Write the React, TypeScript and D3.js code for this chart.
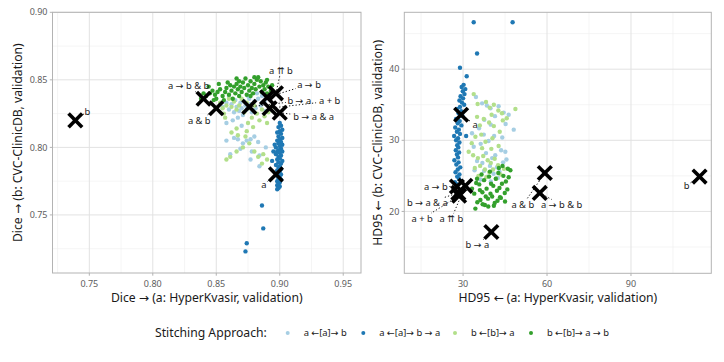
import React from 'react';
import * as d3 from 'd3';

const W = 724;
const H = 362;
const FONT = '"Noto Sans", "DejaVu Sans", sans-serif';

// legend / series
const seriesNames = ['a ←[a]→ b', 'a ←[a]→ b → a', 'b ←[b]→ a', 'b ←[b]→ a → b'];
const seriesColors = ['#a6cee3', '#1f78b4', '#b2df8a', '#33a02c'];

// Dice (x: HyperKvasir, y: CVC-ClinicDB) per series
const diceLightBlue = [
  [0.855,0.830],[0.858,0.833],[0.860,0.828],[0.862,0.832],[0.864,0.826],[0.865,0.835],[0.866,0.830],[0.868,0.827],
  [0.869,0.833],[0.870,0.829],[0.871,0.824],[0.872,0.834],[0.873,0.831],[0.874,0.828],[0.876,0.836],[0.877,0.832],
  [0.878,0.826],[0.880,0.834],[0.881,0.829],[0.883,0.836],[0.885,0.831],[0.886,0.838],[0.888,0.834],[0.889,0.827],
  [0.867,0.822],[0.863,0.820],[0.858,0.818],[0.870,0.816],[0.858,0.805],[0.864,0.807],[0.867,0.806],[0.871,0.803],
  [0.874,0.805],[0.877,0.806],[0.880,0.808],[0.883,0.804],[0.878,0.797],[0.884,0.794],[0.861,0.795],[0.877,0.791],
  [0.884,0.786],[0.889,0.800],[0.869,0.799],[0.886,0.833],[0.892,0.836],[0.875,0.838],[0.860,0.838],[0.882,0.840],
];
const diceDarkBlue = [
  [0.900,0.818],[0.901,0.816],[0.899,0.815],[0.902,0.813],[0.900,0.812],[0.898,0.811],[0.901,0.810],[0.899,0.808],
  [0.902,0.807],[0.900,0.806],[0.898,0.805],[0.901,0.804],[0.899,0.803],[0.902,0.802],[0.900,0.801],[0.897,0.800],
  [0.901,0.799],[0.899,0.798],[0.898,0.797],[0.902,0.797],[0.900,0.796],[0.897,0.795],[0.901,0.794],[0.899,0.793],
  [0.900,0.792],[0.898,0.791],[0.902,0.790],[0.899,0.789],[0.901,0.788],[0.897,0.787],[0.900,0.786],[0.899,0.785],
  [0.901,0.784],[0.898,0.783],[0.900,0.782],[0.899,0.781],[0.901,0.780],[0.898,0.779],[0.900,0.778],[0.899,0.777],
  [0.901,0.776],[0.898,0.775],[0.900,0.774],[0.899,0.773],[0.898,0.772],[0.900,0.771],[0.899,0.770],[0.898,0.769],
  [0.895,0.797],[0.896,0.802],[0.894,0.790],
  [0.886,0.757],[0.887,0.740],[0.874,0.729],[0.873,0.723],
];
const diceLightGreen = [
  [0.853,0.833],[0.855,0.829],[0.856,0.825],[0.858,0.831],[0.857,0.822],[0.860,0.836],[0.862,0.830],[0.864,0.834],
  [0.866,0.828],[0.868,0.831],[0.870,0.836],[0.872,0.826],[0.874,0.833],[0.876,0.829],[0.878,0.822],[0.880,0.831],
  [0.882,0.825],[0.884,0.820],[0.886,0.828],[0.888,0.823],[0.890,0.818],[0.891,0.826],[0.893,0.830],[0.875,0.818],
  [0.866,0.814],[0.862,0.811],[0.867,0.809],[0.873,0.808],[0.876,0.803],[0.871,0.800],[0.866,0.797],[0.861,0.793],
  [0.858,0.791],[0.880,0.797],[0.883,0.793],[0.887,0.795],[0.890,0.791],[0.886,0.788],[0.874,0.812],[0.879,0.815],
];
const diceDarkGreen = [
  [0.842,0.838],[0.845,0.840],[0.847,0.842],[0.849,0.839],[0.851,0.841],[0.853,0.843],[0.850,0.836],[0.855,0.838],
  [0.857,0.841],[0.858,0.844],[0.860,0.839],[0.861,0.846],[0.862,0.842],[0.864,0.845],[0.865,0.840],[0.866,0.847],
  [0.867,0.843],[0.868,0.838],[0.869,0.845],[0.870,0.841],[0.871,0.848],[0.872,0.844],[0.873,0.851],[0.874,0.839],
  [0.875,0.846],[0.876,0.842],[0.877,0.849],[0.878,0.844],[0.879,0.840],[0.880,0.847],[0.881,0.843],[0.882,0.850],
  [0.883,0.852],[0.884,0.845],[0.885,0.849],[0.886,0.841],[0.887,0.846],[0.888,0.843],[0.889,0.848],[0.890,0.840],
  [0.891,0.845],[0.893,0.842],[0.848,0.835],[0.856,0.835],[0.863,0.836],[0.868,0.849],[0.859,0.848],[0.877,0.838],
  [0.838,0.836],[0.840,0.840],[0.844,0.845],[0.852,0.847],[0.866,0.851],[0.880,0.852],[0.890,0.850],[0.894,0.846],
];

// HD95 (x: HyperKvasir, y: CVC-ClinicDB) per series
const hdLightBlue = [
  [34.6,36.1],[36.8,35.2],[38.5,34.9],[39.8,34.5],[42.7,34.8],[41.4,33.4],[44.5,33.9],[46.3,33.6],[48.1,31.5],
  [45.2,32.3],[37.6,32.9],[39.9,32.2],[35.7,31.7],[37.4,30.8],[33.8,29.1],[36.3,29.5],[39.1,29.9],[41.5,27.9],
  [43.6,28.6],[45.1,28.4],[38.2,28.2],[40.4,27.5],[35.0,27.1],[36.9,26.8],[39.6,26.4],[42.1,26.2],[44.3,26.9],
  [37.5,25.7],[40.9,25.3],[43.0,25.6],[34.1,25.8],[38.7,24.9],[42.4,24.7],[36.2,24.5],[39.9,24.2],[45.5,27.3],
  [41.1,30.6],[33.2,31.0],[44.0,30.4],
];
const hdDarkBlue = [
  [33.8,46.6],[47.7,46.6],[35.0,42.2],[28.9,40.2],[31.3,39.0],[31.1,30.6],
  [30.2,37.8],[29.5,37.5],[30.8,37.2],[29.9,36.9],[30.5,36.5],[29.1,36.2],[30.0,35.9],[28.7,35.6],[29.6,35.3],
  [30.4,35.0],[28.9,34.7],[27.8,34.4],[29.3,34.1],[28.4,33.8],[29.8,33.4],[27.5,33.0],[28.8,32.7],[28.1,32.4],
  [29.4,32.1],[27.2,31.8],[28.5,31.5],[27.8,31.2],[28.9,30.9],[26.8,30.6],[28.2,30.3],[27.5,30.0],[28.7,29.7],
  [27.9,29.3],[28.3,29.0],[27.4,28.6],[28.6,28.3],[27.8,28.0],[28.2,27.6],[26.9,27.2],[28.4,26.9],[27.6,26.6],
  [29.0,26.2],[28.1,25.9],[27.3,25.5],[28.7,25.2],[27.9,24.9],[28.5,24.6],[29.3,24.3],[27.1,24.1],[28.0,23.8],
];
const hdLightGreen = [
  [33.8,36.5],[35.2,35.1],[38.2,35.4],[39.5,34.6],[41.0,35.0],[43.9,33.8],[42.6,34.2],[48.7,34.4],[35.0,33.3],
  [37.4,33.0],[40.2,33.6],[41.0,32.0],[39.3,32.5],[36.0,32.1],[44.2,32.8],[45.6,33.1],[34.4,30.5],[36.5,30.8],
  [38.0,29.8],[42.7,29.2],[40.1,28.8],[32.0,28.4],[33.6,27.9],[35.3,27.5],[37.2,27.8],[38.8,27.2],[39.9,26.8],
  [41.3,27.4],[42.5,26.5],[36.1,26.4],[34.2,26.1],[37.8,25.9],[39.4,25.5],[40.7,25.9],[43.4,25.2],[35.5,25.0],
  [38.3,24.8],[41.8,24.6],[44.6,26.0],[36.8,28.9],[33.1,29.6],[40.5,30.3],[43.1,31.2],
];
const hdDarkGreen = [
  [33.2,23.2],[34.0,22.5],[34.4,20.4],[35.1,21.3],[35.8,23.8],[36.2,21.6],[36.9,22.7],[37.5,24.4],[37.8,20.9],
  [38.4,23.2],[38.9,21.8],[39.3,24.9],[39.8,22.5],[40.4,22.1],[40.8,23.6],[41.3,21.2],[41.7,24.6],[42.1,22.9],
  [42.6,25.4],[43.0,23.3],[43.5,21.9],[43.9,23.9],[44.4,25.0],[44.9,22.6],[45.3,24.2],[45.8,23.1],[46.3,24.8],
  [46.9,25.8],[42.8,26.1],[39.6,25.6],[36.6,25.2],[35.0,24.6],[38.1,22.1],[41.0,20.8],[43.2,22.0],[45.0,21.4],
  [37.0,21.0],[40.0,23.9],[44.1,26.4],[46.0,26.0],[34.7,24.0],[39.0,20.7],[42.3,21.5],[36.0,23.0],
];

// single-model / stitched approaches (black crosses)
const approaches = ['a', 'b', 'a & b', 'a → b', 'b → a', 'a → b & b', 'b → a & a', 'a + b', 'a ⇈ b'];
const approachDiceA = [0.897, 0.739, 0.850, 0.890, 0.876, 0.840, 0.900, 0.892, 0.897];
const approachDiceB = [0.780, 0.820, 0.829, 0.837, 0.830, 0.836, 0.8256, 0.829, 0.840];
const approachHdA = [29.3, 114.5, 59.2, 27.8, 40.1, 57.4, 28.3, 28.6, 30.8];
const approachHdB = [33.6, 24.9, 25.4, 23.5, 17.1, 22.6, 22.6, 22.2, 23.6];

// tick breaks
const diceBreaks = [0.75, 0.8, 0.85, 0.9, 0.95];
const diceYBreaks = [0.75, 0.8, 0.85, 0.9];
const diceMinorX = [0.725, 0.775, 0.825, 0.875, 0.925];
const diceMinorY = [0.725, 0.775, 0.825, 0.875];
const hdBreaks = [30, 60, 90];
const hdYBreaks = [20, 30, 40];
const hdMinorX = [15, 45, 75, 105];
const hdMinorY = [15, 25, 35, 45];

// repelled label offsets (px, label centre relative to cross)
const diceLabelOffsets = [[-12, 10], [12, -9], [-17, 13], [42, -13], [50, -6], [-15, -13], [34, 4], [60, -7], [5, -23]];
const hdLabelOffsets = [[14, 10], [-13, 9], [-22, 32], [-21, 0], [-14, 13], [22, 12], [-31, 10], [-37, 23], [-14, 33]];

type Pt = number[];

interface PanelProps {
  left: number; right: number; top: number; bottom: number;
  xDomain: [number, number]; yDomain: [number, number];
  xBreaks: number[]; yBreaks: number[]; xMinor: number[]; yMinor: number[];
  fmt: (v: number) => string;
  series: Pt[][];
  crossX: number[]; crossY: number[];
  offsets: number[][];
  xTitle: string; yTitle: string; yTitleX: number;
}

function labelWidth(s: string) {
  return s.length * 5;
}

function Panel(p: PanelProps) {
  const x = d3.scaleLinear().domain(p.xDomain).range([p.left, p.right]);
  const y = d3.scaleLinear().domain(p.yDomain).range([p.bottom, p.top]);
  const grey = '#5e5e5e';
  const cs = 6.8;
  return (
    <g>
      {p.xMinor.map(v => <line key={'mx' + v} x1={x(v)} x2={x(v)} y1={p.top} y2={p.bottom} stroke="#efefef" strokeWidth={0.6} />)}
      {p.yMinor.map(v => <line key={'my' + v} y1={y(v)} y2={y(v)} x1={p.left} x2={p.right} stroke="#efefef" strokeWidth={0.6} />)}
      {p.xBreaks.map(v => <line key={'gx' + v} x1={x(v)} x2={x(v)} y1={p.top} y2={p.bottom} stroke="#e2e2e2" strokeWidth={1} />)}
      {p.yBreaks.map(v => <line key={'gy' + v} y1={y(v)} y2={y(v)} x1={p.left} x2={p.right} stroke="#e2e2e2" strokeWidth={1} />)}
      {p.series.map((pts, si) => (
        <g key={'s' + si} fill={seriesColors[si]}>
          {pts.map((d, i) => <circle key={i} cx={x(d[0])} cy={y(d[1])} r={2.2} />)}
        </g>
      ))}
      {/* leader segments */}
      {p.crossX.map((cx0, i) => {
        const px = x(cx0), py = y(p.crossY[i]);
        const lx = px + p.offsets[i][0], ly = py + p.offsets[i][1];
        const hw = labelWidth(approaches[i]) / 2 + 1, hh = 5.5;
        const dx = px - lx, dy = py - ly;
        const t = Math.min(dx === 0 ? Infinity : hw / Math.abs(dx), dy === 0 ? Infinity : hh / Math.abs(dy));
        if (t >= 1) return null;
        const ex = lx + dx * t, ey = ly + dy * t;
        const len = Math.hypot(px - ex, py - ey);
        if (len < 5) return null;
        const sx = px + (ex - px) * (3 / len), sy = py + (ey - py) * (3 / len);
        return <line key={'seg' + i} x1={sx} y1={sy} x2={ex} y2={ey} stroke="#000" strokeWidth={0.9} strokeDasharray="1.3,2" />;
      })}
      {p.crossX.map((cx0, i) => {
        const px = x(cx0), py = y(p.crossY[i]);
        return (
          <g key={'c' + i} stroke="#000" strokeWidth={3.6} strokeLinecap="butt">
            <line x1={px - cs} y1={py - cs} x2={px + cs} y2={py + cs} />
            <line x1={px - cs} y1={py + cs} x2={px + cs} y2={py - cs} />
          </g>
        );
      })}
      {p.crossX.map((cx0, i) => (
        <text key={'l' + i} x={x(cx0) + p.offsets[i][0]} y={y(p.crossY[i]) + p.offsets[i][1]} dy="0.35em"
          textAnchor="middle" fontSize={9.4} fill="#1a1a1a">{approaches[i]}</text>
      ))}
      <rect x={p.left} y={p.top} width={p.right - p.left} height={p.bottom - p.top} fill="none" stroke="#b3b3b3" strokeWidth={1} />
      {p.xBreaks.map(v => (
        <g key={'tx' + v}>
          <line x1={x(v)} x2={x(v)} y1={p.bottom} y2={p.bottom + 2.7} stroke="#b3b3b3" />
          <text x={x(v)} y={p.bottom + 14} textAnchor="middle" fontSize={9} fill={grey}>{p.fmt(v)}</text>
        </g>
      ))}
      {p.yBreaks.map(v => (
        <g key={'ty' + v}>
          <line x1={p.left - 2.7} x2={p.left} y1={y(v)} y2={y(v)} stroke="#b3b3b3" />
          <text x={p.left - 5} y={y(v)} dy="0.35em" textAnchor="end" fontSize={9} fill={grey}>{p.fmt(v)}</text>
        </g>
      ))}
      <text x={(p.left + p.right) / 2} y={302} textAnchor="middle" fontSize={12.2} fill="#1a1a1a">{p.xTitle}</text>
      <text transform={`translate(${p.yTitleX},${(p.top + p.bottom) / 2}) rotate(-90)`} dy="0.35em" textAnchor="middle"
        fontSize={12.2} fill="#1a1a1a">{p.yTitle}</text>
    </g>
  );
}

const legendDotX = [287.7, 363.3, 455, 531];

export default function App() {
  return (
    <svg width={W} height={H} style={{ display: 'block', position: 'absolute', left: 0, top: 0, background: '#fff' }}
      fontFamily={FONT}>
      <rect width={W} height={H} fill="#fff" />
      <Panel left={52.5} right={361} top={12.3} bottom={273}
        xDomain={[0.721, 0.964]} yDomain={[0.707, 0.9]}
        xBreaks={diceBreaks} yBreaks={diceYBreaks} xMinor={diceMinorX} yMinor={diceMinorY}
        fmt={d3.format('.2f')}
        series={[diceLightBlue, diceDarkBlue, diceLightGreen, diceDarkGreen]}
        crossX={approachDiceA} crossY={approachDiceB} offsets={diceLabelOffsets}
        xTitle="Dice → (a: HyperKvasir, validation)" yTitle="Dice → (b: CVC-ClinicDB, validation)" yTitleX={17.5} />
      <Panel left={404.3} right={711.3} top={12.3} bottom={273.3}
        xDomain={[9.0, 118.7]} yDomain={[11.3, 48.0]}
        xBreaks={hdBreaks} yBreaks={hdYBreaks} xMinor={hdMinorX} yMinor={hdMinorY}
        fmt={d3.format('d')}
        series={[hdLightBlue, hdDarkBlue, hdLightGreen, hdDarkGreen]}
        crossX={approachHdA} crossY={approachHdB} offsets={hdLabelOffsets}
        xTitle="HD95 ← (a: HyperKvasir, validation)" yTitle="HD95 ← (b: CVC-ClinicDB, validation)" yTitleX={378} />
      <text x={155} y={333} dy="0.35em" fontSize={12.2} fill="#1a1a1a">Stitching Approach:</text>
      {seriesNames.map((name, i) => (
        <g key={name}>
          <circle cx={legendDotX[i]} cy={333} r={2} fill={seriesColors[i]} />
          <text x={legendDotX[i] + 16} y={333} dy="0.35em" fontSize={9.4} fill="#1a1a1a">{name}</text>
        </g>
      ))}
    </svg>
  );
}
